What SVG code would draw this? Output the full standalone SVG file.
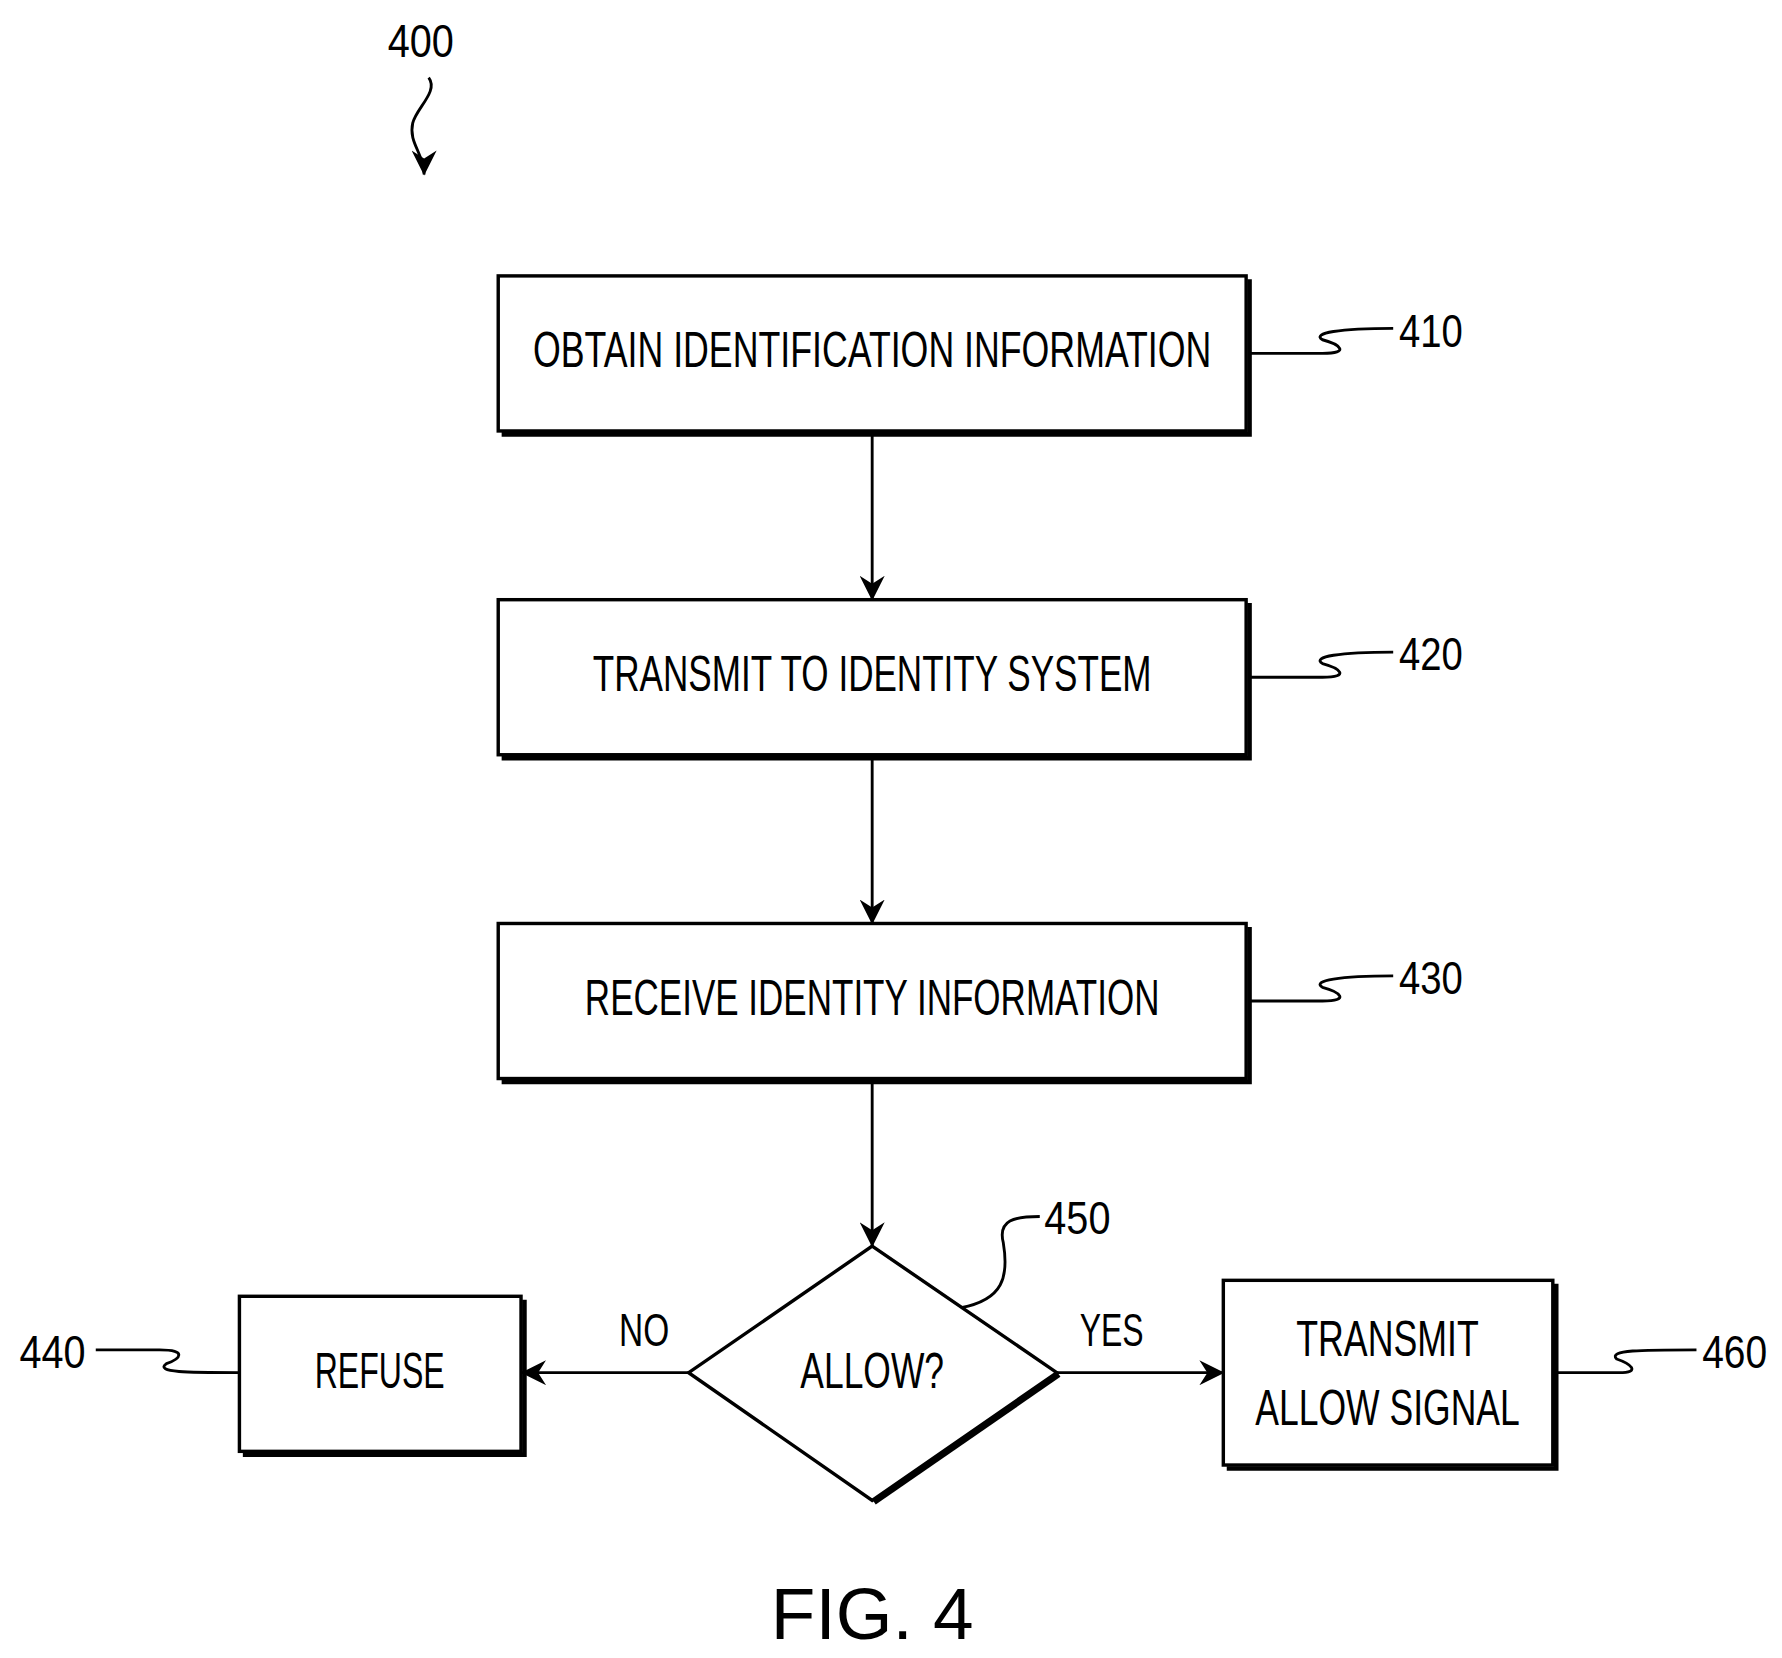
<svg xmlns="http://www.w3.org/2000/svg" width="1782" height="1658" viewBox="0 0 1782 1658">
<style>
.b{fill:#fff;stroke:#000;stroke-width:3}
.sh{fill:none;stroke:#000;stroke-width:4}
.t{font-family:"Liberation Sans",Arial,sans-serif;font-size:44px;fill:#000;text-anchor:middle}
.n{font-family:"Liberation Sans",Arial,sans-serif;font-size:40px;fill:#000}
.l{fill:none;stroke:#000;stroke-width:2.5}
</style>
<defs><marker id="a2" markerWidth="22" markerHeight="22" refX="21" refY="11" orient="auto" markerUnits="userSpaceOnUse"><path d="M0,0 L22,11 L0,22 L7,11 Z" fill="#000"/></marker></defs>
<rect width="1782" height="1658" fill="#fff"/>
<g transform="scale(1.1401)">
<g id="n400"><text class="n" x="369" y="50" text-anchor="middle" textLength="58" lengthAdjust="spacingAndGlyphs">400</text>
<path class="l" d="M376,68 C385,80 365,95 362,108 C358,125 372,135 372,153" marker-end="url(#a2)"/></g>
<g id="n410"><rect class="b" x="437" y="242" width="656" height="136"/><path class="sh" d="M1096,245 V381 H440"/>
<text class="t" x="765" y="322" textLength="595" lengthAdjust="spacingAndGlyphs">OBTAIN IDENTIFICATION INFORMATION</text></g>
<g id="n420"><rect class="b" x="437" y="526" width="656" height="136"/><path class="sh" d="M1096,529 V665 H440"/>
<text class="t" x="765" y="606" textLength="490" lengthAdjust="spacingAndGlyphs">TRANSMIT TO IDENTITY SYSTEM</text></g>
<g id="n430"><rect class="b" x="437" y="810" width="656" height="136"/><path class="sh" d="M1096,813 V949 H440"/>
<text class="t" x="765" y="890" textLength="504" lengthAdjust="spacingAndGlyphs">RECEIVE IDENTITY INFORMATION</text></g>
<g id="n450"><path class="b" d="M765,1093 L927,1204 L765,1316 L604,1204 Z"/><path class="sh" d="M929,1206 L767,1318"/>
<text class="t" x="765" y="1217" textLength="126" lengthAdjust="spacingAndGlyphs">ALLOW?</text></g>
<g id="n440"><rect class="b" x="210" y="1137" width="247" height="136"/><path class="sh" d="M460,1140 V1276 H213"/>
<text class="t" x="333" y="1217" textLength="114" lengthAdjust="spacingAndGlyphs">REFUSE</text></g>
<g id="n460"><rect class="b" x="1073" y="1123" width="289" height="162"/><path class="sh" d="M1365,1126 V1288 H1076"/>
<text class="t" x="1217" y="1189" textLength="160" lengthAdjust="spacingAndGlyphs">TRANSMIT</text>
<text class="t" x="1217" y="1250" textLength="232" lengthAdjust="spacingAndGlyphs">ALLOW SIGNAL</text></g>
<g id="labels">
<text class="n" x="1227" y="304" textLength="56" lengthAdjust="spacingAndGlyphs">410</text>
<text class="n" x="1227" y="588" textLength="56" lengthAdjust="spacingAndGlyphs">420</text>
<text class="n" x="1227" y="872" textLength="56" lengthAdjust="spacingAndGlyphs">430</text>
<text class="n" x="916" y="1082" textLength="58" lengthAdjust="spacingAndGlyphs">450</text>
<text class="n" x="17" y="1200" textLength="58" lengthAdjust="spacingAndGlyphs">440</text>
<text class="n" x="1493" y="1200" textLength="57" lengthAdjust="spacingAndGlyphs">460</text>
<text class="n" x="565" y="1181" text-anchor="middle" textLength="44" lengthAdjust="spacingAndGlyphs">NO</text>
<text class="n" x="975" y="1181" text-anchor="middle" textLength="56" lengthAdjust="spacingAndGlyphs">YES</text>
<text x="765" y="1438" text-anchor="middle" font-family="Liberation Sans,Arial,sans-serif" font-size="64">FIG. 4</text>
</g>
<g id="connectors">
<path class="l" d="M765,380 V526" marker-end="url(#a2)"/>
<path class="l" d="M765,664 V810" marker-end="url(#a2)"/>
<path class="l" d="M765,948 V1093" marker-end="url(#a2)"/>
<path class="l" d="M604,1204 H458" marker-end="url(#a2)"/>
<path class="l" d="M927,1204 H1073" marker-end="url(#a2)"/>
<path class="l" d="M1095,310 H1160 C1185,310 1175,302 1160,298 C1150,292 1175,288 1222,288"/>
<path class="l" d="M1095,594 H1160 C1185,594 1175,586 1160,582 C1150,576 1175,572 1222,572"/>
<path class="l" d="M1095,878 H1160 C1185,878 1175,870 1160,866 C1150,860 1175,856 1222,856"/>
<path class="l" d="M843,1147 C880,1140 885,1120 880,1090 C875,1070 890,1067 912,1067"/>
<path class="l" d="M84,1184 H140 C165,1184 158,1192 146,1196 C135,1204 165,1204 210,1204"/>
<path class="l" d="M1364,1204 H1420 C1440,1204 1430,1196 1418,1192 C1410,1184 1440,1184 1488,1184"/>
</g>
</g>
</svg>
